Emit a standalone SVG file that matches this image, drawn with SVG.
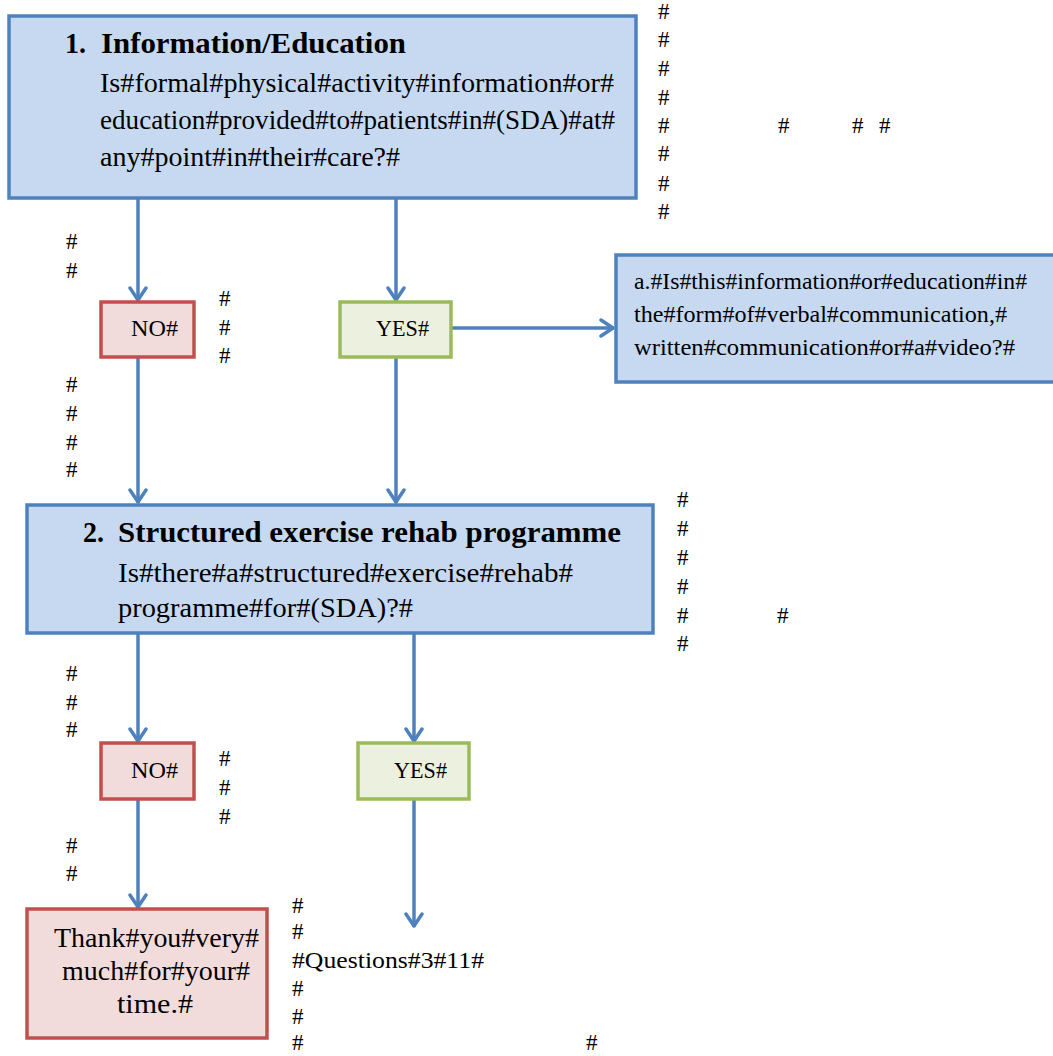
<svg xmlns="http://www.w3.org/2000/svg" width="1053" height="1056" viewBox="0 0 1053 1056">
<style>
  .blue{fill:#C6D9F1;stroke:#4F81BD;stroke-width:3.5}
  .red{fill:#F2DCDB;stroke:#C0504D;stroke-width:3.5}
  .green{fill:#EBF1DE;stroke:#9BBB59;stroke-width:3.5}
  text{font-family:"Liberation Serif","DejaVu Serif",serif;fill:#000}
  text.t{font-size:30px;font-weight:bold}
  text.b{font-size:28px}
  text.s{font-size:24px}
  text.h{font-size:23px}
  .conn line{stroke:#4F81BD;stroke-width:3.5;fill:none}
</style>
<defs>
  <marker id="arr" viewBox="0 0 16 20" refX="15" refY="10" markerWidth="16" markerHeight="20" markerUnits="userSpaceOnUse" orient="auto">
    <path d="M2,2 L14,10 L2,18" fill="none" stroke="#4F81BD" stroke-width="3.5" stroke-linecap="round" stroke-linejoin="round"/>
  </marker>
</defs>
<rect width="1053" height="1056" fill="#fff"/>

<g class="conn">
  <line x1="138" y1="199" x2="138" y2="301" marker-end="url(#arr)"/>
  <line x1="396" y1="199" x2="396" y2="301" marker-end="url(#arr)"/>
  <line x1="452" y1="328" x2="614" y2="328" marker-end="url(#arr)"/>
  <line x1="138" y1="358" x2="138" y2="503" marker-end="url(#arr)"/>
  <line x1="396" y1="358" x2="396" y2="503" marker-end="url(#arr)"/>
  <line x1="138" y1="634" x2="138" y2="742" marker-end="url(#arr)"/>
  <line x1="414" y1="634" x2="414" y2="742" marker-end="url(#arr)"/>
  <line x1="138" y1="800" x2="138" y2="908" marker-end="url(#arr)"/>
  <line x1="414" y1="800" x2="414" y2="927" marker-end="url(#arr)"/>
</g>

<g id="q1">
  <rect class="blue" x="9" y="16" width="627" height="182"/>
  <text class="t" x="65" y="53" textLength="21" lengthAdjust="spacingAndGlyphs">1.</text>
  <text class="t" x="101" y="53" textLength="305" lengthAdjust="spacingAndGlyphs">Information/Education</text>
  <text class="b" x="100" y="92" textLength="514" lengthAdjust="spacingAndGlyphs">Is#formal#physical#activity#information#or#</text>
  <text class="b" x="100" y="129" textLength="515" lengthAdjust="spacingAndGlyphs">education#provided#to#patients#in#(SDA)#at#</text>
  <text class="b" x="100" y="166" textLength="300" lengthAdjust="spacingAndGlyphs">any#point#in#their#care?#</text>
</g>

<g id="no1">
  <rect class="red" x="101" y="302" width="93" height="55"/>
  <text class="s" x="131" y="336" textLength="47" lengthAdjust="spacingAndGlyphs">NO#</text>
</g>

<g id="yes1">
  <rect class="green" x="340" y="302" width="111" height="55"/>
  <text class="s" x="376" y="336" textLength="53" lengthAdjust="spacingAndGlyphs">YES#</text>
</g>

<g id="qa">
  <rect class="blue" x="616" y="255" width="440" height="127"/>
  <text class="s" x="634" y="289" textLength="393" lengthAdjust="spacingAndGlyphs">a.#Is#this#information#or#education#in#</text>
  <text class="s" x="634" y="322" textLength="373" lengthAdjust="spacingAndGlyphs">the#form#of#verbal#communication,#</text>
  <text class="s" x="634" y="355" textLength="381" lengthAdjust="spacingAndGlyphs">written#communication#or#a#video?#</text>
</g>

<g id="q2">
  <rect class="blue" x="27" y="505" width="626" height="128"/>
  <text class="t" x="83" y="542" textLength="21" lengthAdjust="spacingAndGlyphs">2.</text>
  <text class="t" x="118" y="542" textLength="503" lengthAdjust="spacingAndGlyphs">Structured exercise rehab programme</text>
  <text class="b" x="118" y="582" textLength="455" lengthAdjust="spacingAndGlyphs">Is#there#a#structured#exercise#rehab#</text>
  <text class="b" x="118" y="617" textLength="295" lengthAdjust="spacingAndGlyphs">programme#for#(SDA)?#</text>
</g>

<g id="no2">
  <rect class="red" x="101" y="743" width="93" height="56"/>
  <text class="s" x="131" y="778" textLength="47" lengthAdjust="spacingAndGlyphs">NO#</text>
</g>

<g id="yes2">
  <rect class="green" x="358" y="743" width="111" height="56"/>
  <text class="s" x="394" y="778" textLength="53" lengthAdjust="spacingAndGlyphs">YES#</text>
</g>

<g id="thanks">
  <rect class="red" x="27" y="909" width="240" height="129"/>
  <text class="b" x="54" y="947" textLength="205" lengthAdjust="spacingAndGlyphs">Thank#you#very#</text>
  <text class="b" x="62" y="980" textLength="188" lengthAdjust="spacingAndGlyphs">much#for#your#</text>
  <text class="b" x="117" y="1013" textLength="76" lengthAdjust="spacingAndGlyphs">time.#</text>
</g>

<g id="notes">
  <text class="h" x="658" y="19">#</text>
  <text class="h" x="658" y="47">#</text>
  <text class="h" x="658" y="76">#</text>
  <text class="h" x="658" y="105">#</text>
  <text class="h" x="658" y="133">#</text>
  <text class="h" x="778" y="133">#</text>
  <text class="h" x="852" y="133">#</text>
  <text class="h" x="879" y="133">#</text>
  <text class="h" x="658" y="161">#</text>
  <text class="h" x="658" y="191">#</text>
  <text class="h" x="658" y="219">#</text>

  <text class="h" x="66" y="249">#</text>
  <text class="h" x="66" y="278">#</text>
  <text class="h" x="219" y="306">#</text>
  <text class="h" x="219" y="335">#</text>
  <text class="h" x="219" y="363">#</text>
  <text class="h" x="66" y="392">#</text>
  <text class="h" x="66" y="421">#</text>
  <text class="h" x="66" y="450">#</text>
  <text class="h" x="66" y="477">#</text>

  <text class="h" x="677" y="507">#</text>
  <text class="h" x="677" y="536">#</text>
  <text class="h" x="677" y="565">#</text>
  <text class="h" x="677" y="594">#</text>
  <text class="h" x="677" y="623">#</text>
  <text class="h" x="777" y="623">#</text>
  <text class="h" x="677" y="651">#</text>

  <text class="h" x="66" y="681">#</text>
  <text class="h" x="66" y="710">#</text>
  <text class="h" x="66" y="737">#</text>
  <text class="h" x="219" y="766">#</text>
  <text class="h" x="219" y="795">#</text>
  <text class="h" x="219" y="824">#</text>
  <text class="h" x="66" y="853">#</text>
  <text class="h" x="66" y="881">#</text>

  <text class="h" x="292" y="913">#</text>
  <text class="h" x="292" y="939">#</text>
  <text class="h" x="292" y="968" textLength="192" lengthAdjust="spacingAndGlyphs">#Questions#3#11#</text>
  <text class="h" x="292" y="996">#</text>
  <text class="h" x="292" y="1024">#</text>
  <text class="h" x="292" y="1050">#</text>
  <text class="h" x="586" y="1050">#</text>
</g>
</svg>
